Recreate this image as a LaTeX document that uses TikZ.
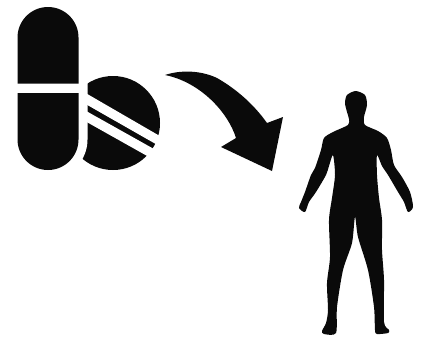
\documentclass[tikz,border=0pt]{standalone}
\usepackage{tikz}

\begin{document}
\begin{tikzpicture}[x=1pt, y=-1pt,
    solid_black/.style={fill=black!96, draw=none},
    gap_white/.style={fill=white, draw=none},
    gap_ring/.style={draw=white, line width=18pt}]

    \useasboundingbox (0,0) rectangle (426,341);

    % tablet, cut by its two bands and by the ring round the capsule
    \fill[solid_black] (113,123) circle (47);
    \fill[gap_white] (84,92.1) -- (165,139) -- (165,149.3) -- (84,103.1) -- cycle;
    \fill[gap_white] (84,109.8) -- (165,155.2) -- (165,166) -- (84,120.5) -- cycle;

    % capsule
    \draw[gap_ring] (17.5,37.5) arc (180:360:30.5) -- (78.5,139.5) arc (0:180:30.5) -- cycle;
    \fill[solid_black] (17.5,83.5) -- (17.5,37.5) arc (180:360:30.5) -- (78.5,83.5) -- cycle;
    \fill[solid_black] (17.5,93) -- (17.5,139.5) arc (180:0:30.5) -- (78.5,93) -- cycle;

    % arrow
    \fill[solid_black] (165,75) .. controls (180,70) and (200,70) .. (217,78)
        .. controls (238,90) and (255,106) .. (267,123) -- (283,117) -- (272,171)
        -- (221,147) -- (236,138) .. controls (228,112) and (200,82) .. (165,75) -- cycle;

    % person
    \fill[solid_black] plot[smooth cycle, tension=0.45] coordinates {
        (355.7,91) (347,95) (345,103) (347,112) (349,119) (348,125) (333,132) (324,138)
        (321,150) (315,168) (311,175) (305,192) (301,202) (299,208) (305,212) (309,202)
        (316,192) (326,175) (329,166) (333,155) (335,175) (332,198) (329,220) (330,257)
        (327,283) (328,310) (326,323) (322,331) (324,334) (336,333) (337,307) (343,270)
        (352,243) (355,217) (358,237) (368,270) (374,307) (375,330) (377,334) (388,333)
        (389,330) (384,322) (384,280) (382,250) (382,220) (379,198) (377,175) (377,155)
        (382,166) (388,175) (398,192) (404,202) (408,212) (413,207) (410,192) (402,177)
        (394,165) (391,150) (387,138) (378,131) (365,125) (364,117) (367,105) (365,95)};

\end{tikzpicture}
\end{document}
